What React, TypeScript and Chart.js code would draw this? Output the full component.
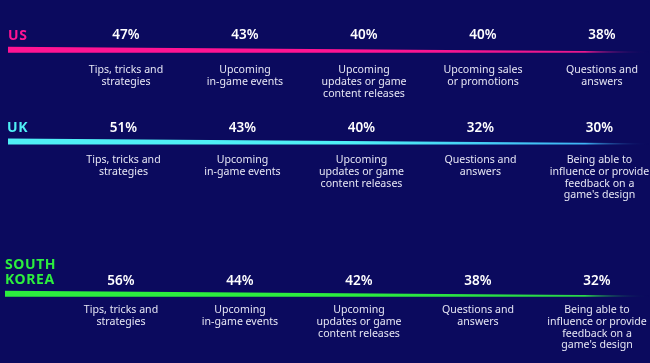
import React, { useEffect, useRef } from "react";
import { Chart, registerables } from "chart.js";

Chart.register(...registerables);

// ---- data ----
const columns = [0, 1, 2, 3, 4];
const countryLabels = [["US"], ["UK"], ["SOUTH", "KOREA"]];
const usValues = [47, 43, 40, 40, 38];
const ukValues = [51, 43, 40, 32, 30];
const krValues = [56, 44, 42, 38, 32];
const usTopics = [
  ["Tips, tricks and", "strategies"],
  ["Upcoming", "in-game events"],
  ["Upcoming", "updates or game", "content releases"],
  ["Upcoming sales", "or promotions"],
  ["Questions and", "answers"],
];
const ukTopics = [
  ["Tips, tricks and", "strategies"],
  ["Upcoming", "in-game events"],
  ["Upcoming", "updates or game", "content releases"],
  ["Questions and", "answers"],
  ["Being able to", "influence or provide", "feedback on a", "game's design"],
];
const krTopics = [
  ["Tips, tricks and", "strategies"],
  ["Upcoming", "in-game events"],
  ["Upcoming", "updates or game", "content releases"],
  ["Questions and", "answers"],
  ["Being able to", "influence or provide", "feedback on a", "game's design"],
];

// ---- layout / style ----
const W = 650;
const H = 363;
const BG = "#0b0a5e";
const colStart = 126; // pixel of column 0
const colStep = 119; // pixels per column
const xMin = -colStart / colStep;
const xMax = xMin + W / colStep;
const toX = (px: number) => xMin + px / colStep;

const rowColors = ["#ff1493", "#4ff0f5", "#2cee3e"];
const rowEndColors = ["#e8188e", "#3fb4f5", "#2ad64a"];
const rowShift = [0, -2.5, -5];
const rowLineBottom = [52.8, 144.5, 296.8];
const rowLineStart = [8, 8, 5];
const rowLineEnd = [649, 649, 649];
const rowPctY = [35, 128, 281];
const rowCountryX = [8, 7, 5];
const rowCountryY = [36, 128, 265];
const rowLabelY = [70, 160, 310];
const lineGap = 11.8;
const thickStart = 6;
const thickEnd = 1.2;

const rows = [
  { values: usValues, topics: usTopics },
  { values: ukValues, topics: ukTopics },
  { values: krValues, topics: krTopics },
];

const FONT = "'Noto Sans', 'Open Sans', sans-serif";

function gradientFor(chart: any, r: number) {
  const area = chart.chartArea;
  if (!area) return rowColors[r];
  const g = chart.ctx.createLinearGradient(area.left, 0, area.right, 0);
  g.addColorStop(0, rowColors[r]);
  g.addColorStop(0.55, rowColors[r]);
  g.addColorStop(0.9, rowEndColors[r]);
  g.addColorStop(1, "rgba(11,10,94,0)");
  return g;
}

const textPlugin = {
  id: "infoText",
  afterDatasetsDraw(chart: any) {
    const ctx = chart.ctx;
    const xs = chart.scales.x;
    const ys = chart.scales.y;
    ctx.save();
    ctx.textBaseline = "middle";
    rows.forEach((row, r) => {
      // country label
      ctx.textAlign = "left";
      ctx.fillStyle = rowColors[r];
      ctx.font = `700 14px ${FONT}`;
      (ctx as any).letterSpacing = "0.6px";
      countryLabels[r].forEach((t, k) => {
        ctx.fillText(t, rowCountryX[r], ys.getPixelForValue(rowCountryY[r] + k * 15));
      });
      (ctx as any).letterSpacing = "0px";
      ctx.textAlign = "center";
      columns.forEach((c) => {
        const x = xs.getPixelForValue(c) + rowShift[r];
        ctx.fillStyle = "#ffffff";
        ctx.font = `600 13.5px ${FONT}`;
        ctx.fillText(`${row.values[c]}%`, x, ys.getPixelForValue(rowPctY[r]));
        ctx.fillStyle = "#e6e6f4";
        ctx.font = `400 10.6px ${FONT}`;
        row.topics[c].forEach((line, k) => {
          ctx.fillText(line, x, ys.getPixelForValue(rowLabelY[r] + k * lineGap));
        });
      });
    });
    ctx.restore();
  },
};

export default function App() {
  const ref = useRef<HTMLCanvasElement>(null);
  useEffect(() => {
    document.body.style.margin = "0";
    document.body.style.background = BG;
    const datasets: any[] = [];
    rows.forEach((_, r) => {
      const x0 = toX(rowLineStart[r]);
      const x1 = toX(rowLineEnd[r]);
      const b = rowLineBottom[r];
      datasets.push({
        label: `top${r}`,
        data: [
          { x: x0, y: b - thickStart },
          { x: x1, y: b - thickEnd },
        ],
        borderWidth: 0,
        pointRadius: 0,
        fill: "+1",
        backgroundColor: (c: any) => gradientFor(c.chart, r),
      });
      datasets.push({
        label: `bottom${r}`,
        data: [
          { x: x0, y: b },
          { x: x1, y: b },
        ],
        borderWidth: 0,
        pointRadius: 0,
        fill: false,
      });
    });
    const chart = new Chart(ref.current!, {
      type: "line",
      data: { datasets },
      options: {
        animation: false,
        responsive: false,
        events: [],
        layout: { padding: 0 },
        plugins: { legend: { display: false }, tooltip: { enabled: false } },
        scales: {
          x: { type: "linear", min: xMin, max: xMax, display: false },
          y: { type: "linear", min: 0, max: H, reverse: true, display: false },
        },
      },
      plugins: [textPlugin],
    });
    return () => chart.destroy();
  }, []);
  return (
    <div style={{ width: W, height: H, background: BG }}>
      <canvas ref={ref} width={W} height={H} style={{ display: "block" }} />
    </div>
  );
}
